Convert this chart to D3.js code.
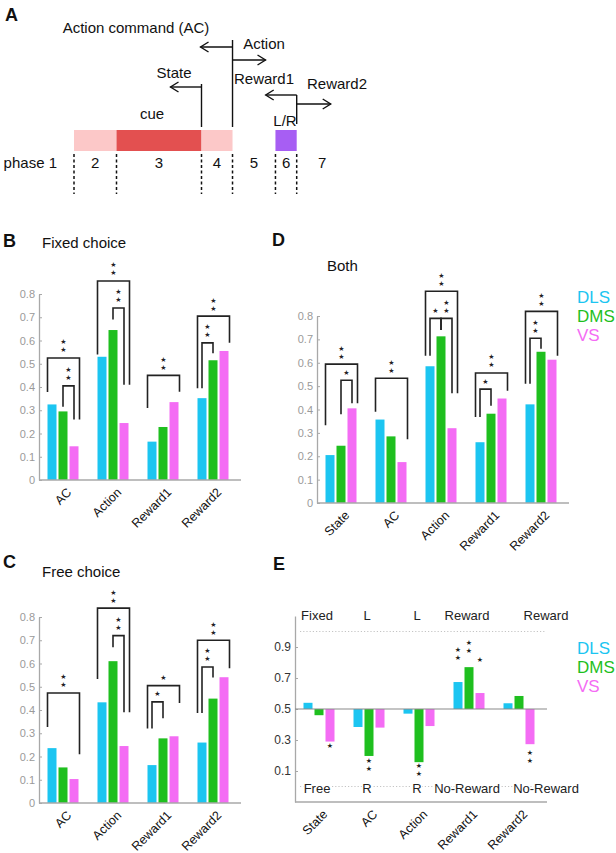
<!DOCTYPE html>
<html><head><meta charset="utf-8">
<script src="https://cdn.jsdelivr.net/npm/d3@7"></script>
<style>body{margin:0;background:#fff} svg{display:block}</style>
</head><body><svg id="c" width="616" height="853"></svg>
<script>
// ---------------- data ----------------
const series = ["DLS","DMS","VS"];
const colors = ["#1cc5f1","#1fbf1f","#f46cf4"];

const catsBC = ["AC","Action","Reward1","Reward2"];
const catsDE = ["State","AC","Action","Reward1","Reward2"];

const fixedDLS = [0.325,0.530,0.165,0.352];
const fixedDMS = [0.295,0.645,0.228,0.515];
const fixedVS  = [0.145,0.245,0.335,0.555];

const freeDLS = [0.236,0.433,0.163,0.260];
const freeDMS = [0.153,0.610,0.278,0.449];
const freeVS  = [0.103,0.245,0.287,0.541];

const bothDLS = [0.205,0.357,0.585,0.260,0.422];
const bothDMS = [0.245,0.285,0.713,0.382,0.647];
const bothVS  = [0.405,0.175,0.320,0.447,0.613];

const prefDLS = [0.540,0.384,0.470,0.674,0.537];
const prefDMS = [0.460,0.197,0.157,0.770,0.584];
const prefVS  = [0.290,0.380,0.390,0.603,0.273];

const ticksBCD = [0,0.1,0.2,0.3,0.4,0.5,0.6,0.7,0.8];
const ticksE = [0.1,0.3,0.5,0.7,0.9];
const prefTop = ["Fixed","L","L","Reward","Reward"];
const prefBottom = ["Free","R","R","No-Reward","No-Reward"];

// brackets: [group, fromSeries, toSeries, topValue, leftLegEnd, rightLegEnd, nStars, outer]
const fixedBrackets = [
  [0,0,2,0.525,0.378,0.260,2,1],
  [0,1,2,0.405,0.315,0.260,2,0],
  [1,0,2,0.856,0.540,0.410,2,1],
  [1,1,2,0.740,0.690,0.410,2,0],
  [2,0,2,0.450,0.310,0.380,2,1],
  [3,0,2,0.705,0.395,0.590,2,1],
  [3,0,1,0.590,0.395,0.545,2,0]
];
const freeBrackets = [
  [0,0,2,0.473,0.327,0.210,2,1],
  [1,0,2,0.838,0.533,0.390,2,1],
  [1,1,2,0.720,0.670,0.390,2,0],
  [2,0,2,0.505,0.320,0.430,1,1],
  [2,0,1,0.435,0.320,0.365,1,0],
  [3,0,2,0.700,0.387,0.580,2,1],
  [3,0,1,0.585,0.387,0.540,2,0]
];
const bothBrackets = [
  [0,0,2,0.594,0.333,0.427,2,1],
  [0,1,2,0.525,0.380,0.427,1,0],
  [1,0,2,0.534,0.390,0.273,2,1],
  [2,0,2,0.906,0.630,0.470,2,1],
  [2,0,1,0.790,0.630,0.740,1,0],
  [2,1,2,0.790,0.740,0.470,2,0],
  [3,0,2,0.556,0.368,0.480,2,1],
  [3,0,1,0.487,0.368,0.416,1,0],
  [4,0,2,0.820,0.510,0.630,2,1],
  [4,0,1,0.705,0.510,0.660,2,0]
];
// panel E stars: [group, series, value of star nearest bar, count, direction (1 up, -1 down)]
const prefStars = [
  [0,2,0.261,1,-1],
  [1,1,0.165,2,-1],
  [2,1,0.135,2,-1],
  [3,0,0.835,2,1],
  [3,1,0.880,2,1],
  [3,2,0.816,1,1],
  [4,2,0.216,2,-1]
];

// panel A timeline (arbitrary time units)
const phaseNames = ["phase 1","2","3","4","5","6","7"];
const phaseEdges = [0,1,3,3.73,4.74,5.24];
const stimStart = [0,1,3,4.74];
const stimEnd   = [1,3,3.73,5.24];
const stimKind  = ["pale","cue","pale","choice"];

// ---------------- drawing ----------------
const FONT = '"Liberation Sans", Arial, Helvetica, sans-serif';
const svg = d3.select("#c").style("font-family", FONT);

function txt(g, x, y, s, size, opts={}) {
  const t = g.append("text").attr("x", x).attr("y", y).text(s)
    .style("font-size", size + "px").style("font-family", FONT)
    .attr("fill", opts.fill || "#111")
    .attr("text-anchor", opts.anchor || "start");
  if (opts.weight) t.style("font-weight", opts.weight);
  return t;
}
function star(g, x, y) {
  g.append("text").attr("x", x).attr("y", y).attr("dy", "0.35em")
    .attr("text-anchor", "middle").style("font-family", '"DejaVu Sans", sans-serif')
    .style("font-size", "7px").attr("fill", "#222").text("\u2605");
}

// panel letters
[["A",5,21],["B",3,247],["D",272,246],["C",3,568],["E",273,570]].forEach(([l,x,y]) =>
  txt(svg, x, y, l, 18, {weight: "bold"}));

// ---------- Panel A ----------
(function(){
  const A = svg.append("g");
  const tx = d3.scaleLinear().domain([0,1]).range([74,116.5]);
  const stimColor = {pale:"#fcc8c8", cue:"#e35050", choice:"#a75ef3"};
  stimStart.forEach((s,i) => A.append("rect")
    .attr("x", tx(s)).attr("width", tx(stimEnd[i]) - tx(s))
    .attr("y", 130).attr("height", 21).attr("fill", stimColor[stimKind[i]]));
  phaseEdges.forEach(t => A.append("line")
    .attr("x1", tx(t)).attr("x2", tx(t)).attr("y1", 154).attr("y2", 194)
    .attr("stroke", "#111").attr("stroke-width", 1.5).attr("stroke-dasharray", "3,2.5"));
  const ext = [-0.8].concat(phaseEdges, [6.44]);
  phaseNames.forEach((p,i) => {
    if (i === 0) txt(A, tx(-0.4), 168, p, 15, {anchor:"end"});
    else txt(A, tx((ext[i] + ext[i+1]) / 2), 168, p, 15, {anchor:"middle"});
  });
  function line(x1,y1,x2,y2){
    A.append("line").attr("x1",x1).attr("y1",y1).attr("x2",x2).attr("y2",y2)
      .attr("stroke","#111").attr("stroke-width",1.4);
  }
  function arrow(x1,y,x2){
    line(x1,y,x2,y);
    const d = x2 > x1 ? -1 : 1;
    A.append("path").attr("d",`M${x2+d*8},${y-5}L${x2},${y}L${x2+d*8},${y+5}`)
      .attr("fill","none").attr("stroke","#111").attr("stroke-width",1.4);
  }
  const xs = tx(3), xa = tx(3.73), xr = tx(5.24);
  line(xs, 84, xs, 127); arrow(xs, 87, xs - 31);
  line(xa, 40, xa, 127); arrow(xa, 47, xa - 32); arrow(xa, 60, xa + 33);
  line(xr, 95, xr, 124); arrow(xr, 95, xr - 31); arrow(xr, 104, xr + 34);
  txt(A, 136, 33, "Action command (AC)", 15, {anchor:"middle"});
  txt(A, 264, 49, "Action", 15, {anchor:"middle"});
  txt(A, 174, 78, "State", 15, {anchor:"middle"});
  txt(A, 264, 84, "Reward1", 15, {anchor:"middle"});
  txt(A, 337, 89, "Reward2", 15, {anchor:"middle"});
  txt(A, 285, 126, "L/R", 15, {anchor:"middle"});
  txt(A, 152, 119, "cue", 15, {anchor:"middle"});
})();

// ---------- bar panels ----------
function barPanel(o){
  const g = svg.append("g");
  const n = o.cats.length;
  const x = d3.scaleBand().domain(o.cats).range([o.ax - 1, o.ax - 1 + n * 50]);
  const xi = d3.scaleBand().domain(series).range([-15.5, 15.5]).paddingInner(2/11);
  const y = d3.scaleLinear().domain(o.domain).range(o.range);
  const cx = c => x(c) + x.bandwidth() / 2;
  const bw = xi.bandwidth();

  if (o.guides) o.guides.forEach(v => g.append("line")
    .attr("x1", o.ax + 5).attr("x2", o.ax + n * 50).attr("y1", y(v)).attr("y2", y(v))
    .attr("stroke", "#c4c4c4").attr("stroke-width", 1).attr("stroke-dasharray", "1.2,2"));

  series.forEach((s, si) => {
    g.selectAll(null).data(o.vals[si]).enter().append("rect")
      .attr("x", (d, i) => cx(o.cats[i]) + xi(s))
      .attr("width", bw)
      .attr("y", d => Math.min(y(d), y(o.base)))
      .attr("height", d => Math.abs(y(d) - y(o.base)))
      .attr("fill", colors[si]);
  });

  const ya = g.append("g").attr("transform", `translate(${o.ax},0)`)
    .call(d3.axisLeft(y).tickValues(o.ticks).tickSize(-3).tickSizeOuter(0).tickPadding(4)
      .tickFormat(d => String(d)));
  ya.select(".domain").attr("stroke", "#a8a8a8").attr("stroke-width", 1.3);
  ya.selectAll(".tick line").attr("stroke", "#a8a8a8");
  ya.selectAll(".tick text").attr("fill", o.tickColor).style("font-size", o.tickSize + "px")
    .style("font-family", FONT);

  const yb = y(o.domain[0]);
  g.append("line").attr("x1", o.ax).attr("x2", o.ax + n * 50 + 2).attr("y1", yb).attr("y2", yb)
    .attr("stroke", "#a8a8a8").attr("stroke-width", 1.6);
  if (o.base !== o.domain[0]) g.append("line").attr("x1", o.ax).attr("x2", o.ax + n * 50 + 2)
    .attr("y1", y(o.base)).attr("y2", y(o.base)).attr("stroke", "#8a8a8a").attr("stroke-width", 1.2);

  o.cats.forEach(c => {
    const lx = cx(c) + 3, ly = yb + 7;
    g.append("text").attr("transform", `translate(${lx},${ly}) rotate(-45)`)
      .attr("text-anchor", "end").attr("dy", "0.7em").style("font-size", "12.5px")
      .style("font-family", FONT).attr("fill", "#111").text(c);
  });

  (o.brackets || []).forEach(b => {
    const [gi, a, bb, top, lb, rb, ns, outer] = b;
    const c = cx(o.cats[gi]);
    let xl, xr;
    if (outer) { xl = c + xi(series[a]); xr = c + xi(series[bb]) + bw + 1; }
    else { xl = c + xi(series[a]) + bw / 2; xr = c + xi(series[bb]) + bw / 2; }
    g.append("path").attr("d", `M${xl},${y(lb)}V${y(top)}H${xr}V${y(rb)}`)
      .attr("fill", "none").attr("stroke", "#222").attr("stroke-width", 1.6);
    for (let k = 0; k < ns; k++) star(g, (xl + xr) / 2, y(top) - 8 - 8 * k);
  });

  (o.stars || []).forEach(s => {
    const [gi, si, v, ns, dir] = s;
    const sx = cx(o.cats[gi]) + xi(series[si]) + bw / 2;
    for (let k = 0; k < ns; k++) star(g, sx, y(v) - dir * 8 * k);
  });

  if (o.rowTop) {
    const rl = (arr, v, dy) => arr.forEach((s, i) => {
      const lx = cx(o.cats[i]) + (i === n - 1 ? 27 : -2);
      g.append("text").attr("x", lx).attr("y", y(v) + dy).attr("text-anchor", "middle")
        .style("font-size", "13px").style("font-family", FONT).attr("fill", "#222")
        .attr("stroke", "#fff").attr("stroke-width", 3).attr("paint-order", "stroke").text(s);
    });
    rl(o.rowTop, 1.0, -12);
    rl(o.rowBottom, 0.0, 6);
  }

  if (o.title) txt(g, o.titleX, o.titleY, o.title, 15);

  if (o.legendY) series.forEach((s, i) =>
    txt(g, 577, o.legendY + i * 19, s, 17, {fill: colors[i]}));
}

barPanel({cats: catsBC, vals: [fixedDLS, fixedDMS, fixedVS], ax: 39, domain: [0, 0.8], range: [480, 294],
  base: 0, ticks: ticksBCD, tickColor: "#9a9a9a", tickSize: 11, brackets: fixedBrackets,
  title: "Fixed choice", titleX: 42, titleY: 248});

barPanel({cats: catsBC, vals: [freeDLS, freeDMS, freeVS], ax: 39, domain: [0, 0.8], range: [803, 617],
  base: 0, ticks: ticksBCD, tickColor: "#9a9a9a", tickSize: 11, brackets: freeBrackets,
  title: "Free choice", titleX: 42, titleY: 577});

barPanel({cats: catsDE, vals: [bothDLS, bothDMS, bothVS], ax: 317, domain: [0, 0.8], range: [503, 316],
  base: 0, ticks: ticksBCD, tickColor: "#9a9a9a", tickSize: 11, brackets: bothBrackets,
  title: "Both", titleX: 327, titleY: 271, legendY: 303});

barPanel({cats: catsDE, vals: [prefDLS, prefDMS, prefVS], ax: 295, domain: [-0.1, 1.1], range: [802, 616],
  base: 0.5, ticks: ticksE, tickColor: "#333", tickSize: 12, stars: prefStars,
  guides: [1.0, 0.0], rowTop: prefTop, rowBottom: prefBottom, legendY: 654});
</script>
</body></html>
